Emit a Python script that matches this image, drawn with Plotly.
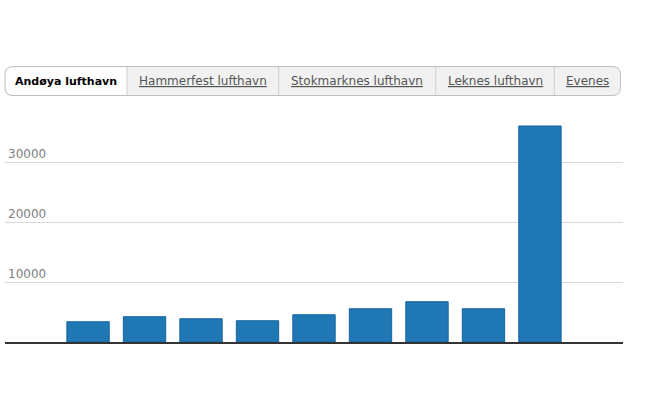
import plotly.graph_objects as go

# tabs across the top, the first one is selected
tabs = ["Andøya lufthavn", "Hammerfest lufthavn", "Stokmarknes lufthavn",
        "Leknes lufthavn", "Evenes"]
active_tab = 0

# bar values
periods = ["1", "2", "3", "4", "5", "6", "7", "8", "9"]
passengers = [3380, 4220, 3880, 3550, 4550, 5550, 6720, 5550, 36050]

ytickvals = [10000, 20000, 30000]
yticktext = ["10000", "20000", "30000"]

W, H = 648, 400
plot_l, plot_r = 5, 623
plot_t, plot_b = 120, 342.3


def px2x(px):
    return (px - plot_l) / (plot_r - plot_l)


def px2y(py):
    return (plot_b - py) / (plot_b - plot_t)


fig = go.Figure()
fig.add_trace(go.Bar(
    x=periods, y=passengers,
    marker=dict(color="#1f77b4", line=dict(color="#1565a0", width=1)),
    hoverinfo="y",
))

# tab strip geometry (pixels)
tab_top, tab_bot = 66.5, 95.5
tab_edges = [5, 127, 278.7, 435.7, 554.3, 620.5]
r = 8


def rounded_path(x0, x1, y0, y1, left=True, right=True):
    X = px2x
    Y = px2y
    p = ""
    if left:
        p += f"M {X(x0 + r)} {Y(y0)} "
    else:
        p += f"M {X(x0)} {Y(y0)} "
    if right:
        p += f"L {X(x1 - r)} {Y(y0)} Q {X(x1)} {Y(y0)} {X(x1)} {Y(y0 + r)} "
        p += f"L {X(x1)} {Y(y1 - r)} Q {X(x1)} {Y(y1)} {X(x1 - r)} {Y(y1)} "
    else:
        p += f"L {X(x1)} {Y(y0)} L {X(x1)} {Y(y1)} "
    if left:
        p += f"L {X(x0 + r)} {Y(y1)} Q {X(x0)} {Y(y1)} {X(x0)} {Y(y1 - r)} "
        p += f"L {X(x0)} {Y(y0 + r)} Q {X(x0)} {Y(y0)} {X(x0 + r)} {Y(y0)} Z"
    else:
        p += f"L {X(x0)} {Y(y1)} Z"
    return p


shapes = []
# grey background for the whole strip
shapes.append(dict(type="path", xref="paper", yref="paper",
                   path=rounded_path(tab_edges[0], tab_edges[-1], tab_top, tab_bot),
                   fillcolor="#f1f1f1", line=dict(width=0), layer="above"))
# white selected tab
a0, a1 = tab_edges[active_tab], tab_edges[active_tab + 1]
shapes.append(dict(type="path", xref="paper", yref="paper",
                   path=rounded_path(a0, a1, tab_top, tab_bot,
                                     left=active_tab == 0,
                                     right=active_tab == len(tabs) - 1),
                   fillcolor="#ffffff", line=dict(width=0), layer="above"))
# separators
for e in tab_edges[1:-1]:
    shapes.append(dict(type="line", xref="paper", yref="paper",
                       x0=px2x(e), x1=px2x(e), y0=px2y(tab_top), y1=px2y(tab_bot),
                       line=dict(color="#cfcfcf", width=1), layer="above"))
# outer border
shapes.append(dict(type="path", xref="paper", yref="paper",
                   path=rounded_path(tab_edges[0], tab_edges[-1], tab_top, tab_bot),
                   fillcolor="rgba(0,0,0,0)", line=dict(color="#bdbdbd", width=1),
                   layer="above"))

annotations = []
for i, name in enumerate(tabs):
    cx = (tab_edges[i] + tab_edges[i + 1]) / 2
    if i == active_tab:
        txt = f"<b>{name}</b>"
        col = "#000000"
        size = 11
    else:
        txt = f"<u>{name}</u>"
        col = "#555555"
        size = 12
    annotations.append(dict(text=txt, x=px2x(cx), y=px2y(81), xref="paper", yref="paper",
                            showarrow=False, xanchor="center", yanchor="middle",
                            font=dict(family="DejaVu Sans", size=size, color=col)))

fig.update_layout(
    width=W, height=H,
    margin=dict(l=plot_l, r=W - plot_r, t=plot_t, b=H - plot_b),
    paper_bgcolor="white", plot_bgcolor="white",
    showlegend=False,
    bargap=0.25,
    font=dict(family="DejaVu Sans", size=12, color="#666666"),
    shapes=shapes, annotations=annotations,
    xaxis=dict(range=[-1.47, 9.47], showticklabels=False, ticks="",
               showgrid=False, showline=True, linecolor="#333333", linewidth=1.5,
               zeroline=False, fixedrange=True),
    yaxis=dict(range=[0, 37050], tickvals=ytickvals, ticktext=yticktext,
               ticklabelposition="inside top", showgrid=True,
               gridcolor="#d8d8d8", gridwidth=1, zeroline=False, showline=False,
               tickfont=dict(family="DejaVu Sans", size=12, color="#808080"),
               fixedrange=True),
)

# drop the browser's default 8px body margin so the figure sits at the page corner
fig.write_html("out.html", config={"displayModeBar": False},
               post_script="document.body.style.margin='0';")
